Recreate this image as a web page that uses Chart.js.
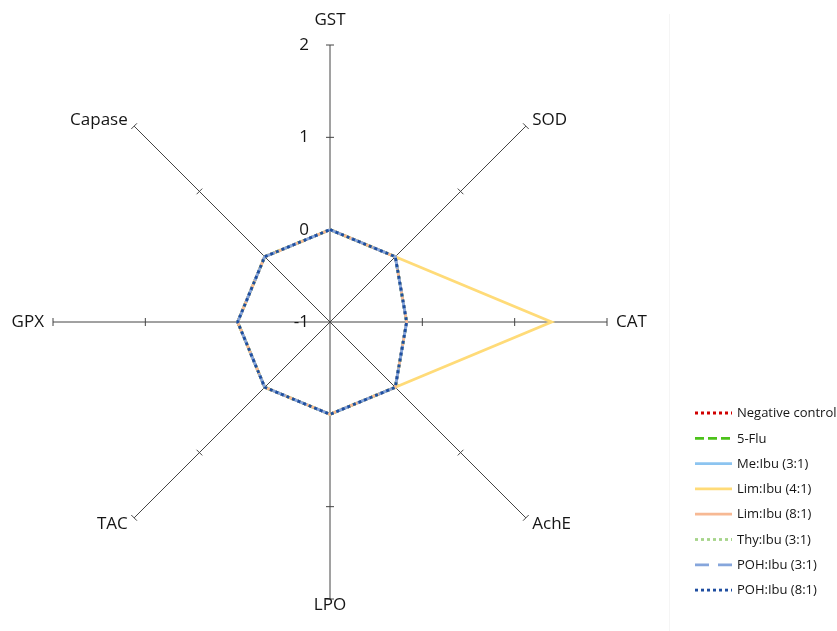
<!DOCTYPE html>
<html>
<head>
<meta charset="utf-8">
<script src="https://cdn.jsdelivr.net/npm/chart.js@4"></script>
<style>
  html, body { margin: 0; padding: 0; background: #fff; }
  #wrap { width: 837px; height: 631px; position: relative; }
  canvas { display: block; }
</style>
</head>
<body>
<div id="wrap"><canvas id="c" width="837" height="631"></canvas></div>
<script>
// Enzyme / marker axes, clockwise from the top
const categories = ['GST', 'SOD', 'CAT', 'AchE', 'LPO', 'TAC', 'GPX', 'Capase'];
const tickValues = [-1, 0, 1, 2];

// Series values per axis
const negativeControl = [0, 0, -0.17, 0, 0, 0, 0, 0];
const fiveFlu         = [0, 0, -0.17, 0, 0, 0, 0, 0];
const meIbu31         = [0, 0, -0.17, 0, 0, 0, 0, 0];
const limIbu41        = [0, 0, 1.4, 0, 0, 0, 0, 0];
const limIbu81        = [0, 0, -0.17, 0, 0, 0, 0, 0];
const thyIbu31        = [0, 0, -0.17, 0, 0, 0, 0, 0];
const pohIbu31        = [0, 0, -0.17, 0, 0, 0, 0, 0];
const pohIbu81        = [0, 0, -0.17, 0, 0, 0, 0, 0];

const seriesNames = ['Negative control', '5-Flu', 'Me:Ibu (3:1)', 'Lim:Ibu (4:1)',
                     'Lim:Ibu (8:1)', 'Thy:Ibu (3:1)', 'POH:Ibu (3:1)', 'POH:Ibu (8:1)'];
const seriesValues = [negativeControl, fiveFlu, meIbu31, limIbu41,
                      limIbu81, thyIbu31, pohIbu31, pohIbu81];

const seriesStyles = [
  { color: '#d00000', dash: [3, 3] },
  { color: '#4cc21a', dash: [9, 4] },
  { color: '#8cc4f0', dash: [] },
  { color: '#ffdb78', dash: [] },
  { color: '#f7b994', dash: [] },
  { color: '#a6d48a', dash: [3, 3] },
  { color: '#86a6dc', dash: [14, 9] },
  { color: '#1f4ea0', dash: [3, 3] }
];

const FONT = '"Open Sans", "Liberation Sans", Arial, sans-serif';
const TEXT_COLOR = '#151515';

const datasets = seriesNames.map((name, i) => ({
  label: name,
  data: seriesValues[i],
  borderColor: seriesStyles[i].color,
  borderDash: seriesStyles[i].dash,
  borderWidth: 2.8,
  borderCapStyle: 'butt',
  borderJoinStyle: 'miter',
  fill: false,
  pointRadius: 0,
  pointHoverRadius: 0,
  tension: 0,
  // later series are painted over earlier ones
  order: seriesNames.length - i
}));

// Axis tick marks, value labels, category labels and legend
const radarDecor = {
  id: 'radarDecor',
  beforeDatasetsDraw(chart) {
    const r = chart.scales.r;
    const ctx = chart.ctx;
    ctx.save();
    // cross ticks on every spoke
    ctx.strokeStyle = '#444';
    ctx.lineWidth = 1;
    for (let i = 0; i < categories.length; i++) {
      for (const v of tickValues) {
        if (v === tickValues[0]) continue;
        const p = r.getPointPositionForValue(i, v);
        const px = -Math.sin(p.angle), py = Math.cos(p.angle);
        ctx.beginPath();
        ctx.moveTo(p.x - 4 * px, p.y - 4 * py);
        ctx.lineTo(p.x + 4 * px, p.y + 4 * py);
        ctx.stroke();
      }
    }
    // value labels beside the first spoke
    ctx.fillStyle = TEXT_COLOR;
    ctx.font = '17px ' + FONT;
    ctx.textAlign = 'right';
    ctx.textBaseline = 'middle';
    for (const v of tickValues) {
      const p = r.getPointPositionForValue(0, v);
      ctx.fillText(String(v), p.x - 21, p.y);
    }
    ctx.restore();
  },
  afterDraw(chart) {
    const r = chart.scales.r;
    const ctx = chart.ctx;
    ctx.save();
    // category labels at the spoke ends
    ctx.fillStyle = TEXT_COLOR;
    ctx.font = '17px ' + FONT;
    ctx.textBaseline = 'middle';
    for (let i = 0; i < categories.length; i++) {
      const deg = i * 360 / categories.length;
      let dist = r.drawingArea + 9;
      if (deg === 0) dist = r.drawingArea + 25;
      if (deg === 180) dist = r.drawingArea + 6;
      const p = r.getPointPosition(i, dist);
      ctx.textAlign = (deg === 0 || deg === 180) ? 'center' : (deg < 180 ? 'left' : 'right');
      ctx.fillText(categories[i], p.x, p.y);
    }
    // legend
    ctx.font = '13px ' + FONT;
    ctx.textAlign = 'left';
    chart.data.datasets.forEach((ds, i) => {
      const y = 413 + i * 25.3;
      ctx.strokeStyle = ds.borderColor;
      ctx.lineWidth = 2.8;
      ctx.setLineDash(ds.borderDash);
      ctx.lineCap = 'butt';
      ctx.beginPath();
      ctx.moveTo(695, y);
      ctx.lineTo(732, y);
      ctx.stroke();
      ctx.setLineDash([]);
      ctx.fillStyle = TEXT_COLOR;
      ctx.fillText(ds.label, 737, y + 0.5);
    });
    // faint panel divider
    ctx.strokeStyle = '#f5f5f5';
    ctx.lineWidth = 1;
    ctx.beginPath();
    ctx.moveTo(669.5, 14);
    ctx.lineTo(669.5, 631);
    ctx.stroke();
    ctx.restore();
  }
};

new Chart(document.getElementById('c'), {
  type: 'radar',
  data: { labels: categories, datasets },
  options: {
    responsive: false,
    animation: false,
    devicePixelRatio: 1,
    layout: { padding: { left: 53, top: 45, right: 230, bottom: 32 } },
    plugins: {
      legend: { display: false },
      tooltip: { enabled: false }
    },
    scales: {
      r: {
        min: tickValues[0],
        max: tickValues[tickValues.length - 1],
        beginAtZero: false,
        ticks: { display: false, stepSize: 1 },
        grid: { display: false },
        angleLines: { display: true, color: '#444', lineWidth: 1 },
        pointLabels: { display: false }
      }
    }
  },
  plugins: [radarDecor]
});
</script>
</body>
</html>
